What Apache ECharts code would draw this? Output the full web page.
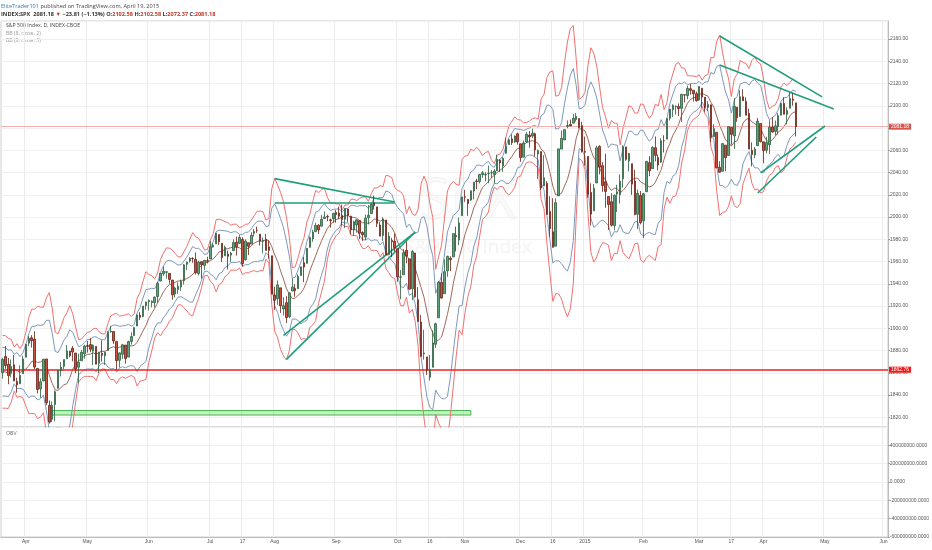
<!DOCTYPE html>
<html><head><meta charset="utf-8">
<script src="https://cdn.jsdelivr.net/npm/echarts@6/dist/echarts.min.js"></script>
<style>html,body{margin:0;padding:0;background:#fff}#c{width:932px;height:550px}</style>
</head><body><div id="c"></div>
<script>
// ---- data (S&P 500 daily, 2014-03-20 .. 2015-04-17) ----
const warmupCloses = [1867.63,1868.20,1846.34,1841.13,1858.83,1872.25,1860.77];
const opens = [
1860.09,1874.53,1867.67,1859.48,1867.09,1852.11,1850.07,1859.16,
1873.96,1886.61,1891.43,1890.25,1863.92,1845.48,1852.64,1872.28,1830.65,1818.18,1831.45,1846.01,1861.73,1865.79,1872.57,1879.32,1881.97,1877.72,1865.00,1870.78,1877.10,
1884.39,1885.30,1879.45,1883.69,1868.53,1877.39,1875.27,1880.03,1896.75,1897.13,1888.16,1871.19,1876.66,1884.88,1874.05,1888.19,1893.32,1902.01,1911.77,1910.60,1920.33,
1923.87,1923.07,1923.06,1928.52,1942.41,1948.97,1950.34,1949.37,1943.35,1930.80,1934.84,1937.15,1942.73,1957.50,1960.45,1962.92,1961.97,1949.27,1959.89,1956.56,1960.79,
1962.29,1973.06,1975.88,1984.22,1976.39,1965.10,1966.67,1965.76,1969.86,1977.36,1976.35,1979.75,1961.54,1976.93,1975.65,1985.32,1988.07,1984.60,1978.25,1980.03,1973.21,1965.14,
1929.80,1926.62,1936.34,1917.29,1923.03,1910.35,1933.43,1935.73,1935.60,1947.41,1958.87,1958.36,1972.73,1980.46,1986.82,1992.60,1991.74,1998.59,2000.54,1997.42,1998.45,
2004.07,2003.57,2001.67,1998.00,2007.17,2000.73,1988.41,1992.85,1996.74,1986.04,1981.93,1999.30,2003.07,2012.74,2009.08,1992.78,1983.34,1997.32,1966.22,1978.96,1978.21,
1971.44,1945.83,1948.12,1970.01,1962.36,1935.55,1967.68,1925.63,1905.65,1877.11,1874.18,1855.95,1864.91,1885.62,1909.38,1941.29,1931.02,1951.59,1962.97,1964.14,1983.29,1979.49,2001.20,
2018.21,2015.81,2015.29,2023.33,2032.36,2032.01,2038.20,2037.75,2039.21,2039.74,2038.29,2041.48,2051.16,2045.87,2057.46,2065.07,2070.15,2067.36,2074.78,
2065.78,2053.77,2067.45,2073.64,2072.78,2074.84,2056.55,2058.86,2027.92,2030.36,2005.03,1986.71,1973.77,2018.98,2061.04,2069.28,2081.48,2083.25,2084.30,2087.63,2088.49,2082.11,
2058.90,2054.44,2022.15,2005.55,2030.61,2063.45,2046.13,2031.58,2018.40,2013.75,1992.25,2020.76,2020.19,2034.30,2062.98,2050.42,2047.86,2032.34,2002.45,2019.35,
1996.67,2022.71,2048.86,2043.45,2062.28,2053.47,2049.38,2068.55,2069.98,2088.78,2096.47,2099.16,2099.25,2097.65,2109.83,2109.10,2115.30,2113.91,2110.88,
2105.23,2115.76,2107.72,2098.54,2100.91,2072.25,2076.14,2044.69,2041.10,2064.56,2055.35,2080.59,2072.84,2098.69,2090.32,2107.99,2103.94,2093.10,2059.94,2055.78,2064.11,2084.05,
2067.63,2060.03,2064.87,2080.79,2076.94,2081.29,2091.51,2102.03,2092.28,2097.82,2105.96,2102.58];
const highs = [
1873.49,1883.97,1873.34,1871.87,1875.92,1855.55,1866.63,1875.18,
1885.84,1893.17,1893.80,1897.28,1864.04,1854.95,1872.43,1872.53,1835.07,1834.19,1844.02,1862.31,1869.63,1871.89,1884.89,1879.75,1884.06,1877.72,1877.01,1880.60,1885.20,
1888.59,1891.33,1885.51,1883.69,1878.83,1889.07,1878.57,1897.13,1902.17,1897.13,1888.16,1878.28,1886.00,1884.88,1888.80,1896.33,1901.26,1912.28,1914.46,1920.03,1924.03,
1925.88,1925.07,1928.63,1941.74,1949.44,1955.55,1950.86,1949.37,1943.35,1937.30,1941.15,1943.69,1957.74,1959.87,1963.91,1963.74,1968.17,1960.83,1959.89,1961.47,1964.24,
1978.58,1976.67,1985.59,1984.22,1976.39,1974.15,1969.84,1968.67,1979.85,1982.52,1983.94,1981.80,1979.91,1976.93,1986.24,1989.23,1991.39,1984.60,1981.52,1984.85,1978.90,1965.14,
1937.35,1942.92,1936.34,1927.91,1928.89,1932.38,1944.90,1939.65,1948.41,1955.23,1964.04,1971.99,1982.57,1988.57,1994.76,1993.54,2001.95,2005.04,2002.14,1998.55,2003.38,
2006.12,2009.28,2011.17,2007.71,2007.17,2001.01,1996.66,1997.65,1996.74,1987.18,2002.28,2010.74,2012.34,2019.26,2009.08,1995.41,1999.79,1997.32,1986.37,1981.28,1985.17,
1971.44,1952.32,1971.19,1977.84,1962.36,1970.36,1967.68,1936.98,1912.09,1898.71,1874.18,1876.01,1898.16,1905.03,1942.45,1949.31,1961.95,1965.27,1964.64,1985.05,1991.40,1999.40,2018.19,
2024.46,2015.98,2023.77,2031.61,2034.26,2038.70,2041.28,2040.33,2046.18,2042.22,2043.07,2056.08,2052.14,2053.84,2071.46,2070.17,2074.21,2073.29,2075.76,
2065.78,2068.77,2076.28,2077.34,2079.47,2075.78,2060.60,2058.86,2055.53,2032.25,2018.69,2016.89,2016.75,2061.23,2077.85,2078.76,2086.73,2087.56,2092.70,2093.55,2088.49,2085.58,
2072.36,2054.44,2030.25,2029.61,2064.08,2064.43,2049.30,2056.93,2018.40,2021.35,2020.46,2028.94,2038.29,2064.62,2062.98,2057.62,2047.86,2042.49,2024.64,2023.32,
2021.66,2050.30,2054.74,2063.55,2072.40,2056.16,2070.86,2073.48,2088.53,2097.03,2101.30,2100.23,2102.13,2110.61,2110.05,2117.94,2119.59,2113.91,2112.74,
2117.52,2115.76,2107.72,2104.25,2100.91,2083.49,2076.14,2050.08,2066.41,2064.56,2081.41,2080.59,2106.85,2098.69,2113.92,2114.86,2107.63,2097.43,2067.15,2062.83,2088.97,2084.05,
2067.63,2072.17,2086.99,2089.81,2086.69,2093.31,2102.61,2107.65,2098.62,2111.91,2111.30,2102.58];
const lows = [
1854.63,1863.46,1849.69,1855.96,1852.56,1842.11,1850.07,1859.16,
1873.96,1883.79,1882.65,1863.26,1841.48,1837.49,1852.38,1830.87,1814.36,1815.80,1816.29,1846.01,1856.72,1863.18,1872.57,1873.91,1870.24,1859.70,1850.61,1870.78,1872.69,
1878.04,1878.50,1866.77,1867.72,1859.79,1870.05,1867.02,1880.03,1896.06,1885.77,1862.36,1864.82,1872.42,1868.14,1874.05,1885.39,1893.32,1902.01,1907.30,1909.82,1916.64,
1915.98,1918.79,1918.60,1922.93,1942.41,1947.16,1944.64,1940.08,1925.78,1927.69,1930.91,1933.55,1939.29,1952.26,1959.17,1958.89,1948.34,1947.49,1944.69,1952.18,1958.22,
1962.29,1972.58,1975.88,1974.88,1959.46,1965.10,1952.86,1959.63,1969.86,1965.34,1975.67,1955.59,1960.82,1965.77,1975.65,1982.44,1985.79,1974.37,1967.31,1969.95,1962.42,1930.67,
1916.37,1921.20,1913.77,1911.45,1904.78,1909.01,1933.43,1928.29,1935.60,1947.41,1941.50,1958.36,1972.73,1977.68,1986.82,1984.76,1991.74,1998.59,1996.20,1990.52,1994.65,
1994.85,1998.14,1992.54,1990.10,1995.60,1984.61,1982.99,1985.93,1980.26,1978.48,1979.06,1993.29,2003.07,2006.59,1991.01,1982.77,1978.63,1965.99,1966.22,1964.04,1968.96,
1941.72,1926.03,1948.12,1958.43,1935.10,1925.25,1927.56,1906.05,1874.14,1871.79,1858.00,1853.00,1864.91,1882.30,1909.38,1926.83,1931.02,1946.27,1951.37,1964.14,1969.04,1974.75,2001.20,
2013.68,2001.01,2014.42,2015.86,2025.07,2030.17,2035.28,2031.95,2030.44,2035.20,2030.20,2041.48,2040.37,2040.49,2056.75,2065.07,2064.75,2066.62,2065.06,
2049.57,2053.77,2066.65,2062.34,2070.81,2054.27,2034.17,2024.26,2027.92,2002.33,1982.26,1972.56,1973.77,2018.98,2061.03,2069.28,2079.77,2081.86,2084.30,2085.75,2079.53,2057.94,
2046.04,2017.34,1992.44,2005.55,2030.61,2038.33,2022.58,2008.25,1988.44,1991.47,1988.12,2004.49,2012.04,2026.38,2050.54,2040.97,2019.91,2001.49,1989.18,1993.38,
1980.90,2022.71,2036.72,2043.45,2049.97,2041.88,2048.62,2057.99,2069.98,2086.70,2089.80,2092.15,2090.79,2085.44,2103.00,2105.87,2109.89,2103.76,2103.75,
2104.50,2098.26,2094.49,2095.22,2067.27,2072.21,2044.16,2039.69,2041.10,2041.17,2055.35,2065.08,2061.23,2085.56,2090.32,2104.42,2091.50,2061.05,2045.50,2052.96,2064.11,2067.04,
2048.38,2057.32,2056.52,2076.10,2073.30,2074.29,2091.51,2092.33,2083.24,2097.82,2100.02,2072.37];
const closes = [
1872.01,1866.52,1857.44,1865.62,1852.56,1849.04,1857.62,1872.34,
1885.52,1890.90,1888.77,1865.09,1845.04,1851.96,1872.18,1833.08,1815.69,1830.61,1842.98,1862.31,1864.85,1871.89,1879.55,1875.39,1878.61,1863.40,1869.43,1878.33,1883.95,
1883.68,1881.14,1884.66,1867.72,1878.21,1875.63,1878.48,1896.65,1897.45,1888.53,1870.85,1877.86,1885.08,1872.83,1888.03,1892.49,1900.53,1911.91,1909.78,1920.03,1923.57,
1924.97,1924.24,1927.88,1940.46,1949.44,1951.27,1950.79,1943.89,1930.11,1936.16,1937.78,1941.99,1956.98,1959.48,1962.87,1962.61,1949.98,1959.53,1957.22,1960.96,1960.23,
1973.32,1974.62,1985.44,1977.65,1963.71,1972.83,1964.68,1967.57,1977.10,1973.28,1981.57,1958.12,1978.22,1973.63,1983.53,1987.01,1987.98,1978.34,1978.91,1969.95,1970.07,1930.67,
1925.15,1938.99,1920.21,1920.24,1909.57,1931.59,1936.92,1933.75,1946.72,1955.18,1955.06,1971.74,1981.60,1986.51,1992.37,1988.40,1997.92,2000.02,2000.12,1996.74,2003.37,
2002.28,2000.72,1997.65,2007.71,2001.54,1988.44,1995.69,1997.45,1985.54,1984.13,1998.98,2001.57,2011.36,2010.40,1994.29,1982.77,1998.30,1965.99,1982.85,1977.80,1972.29,
1946.16,1946.17,1967.90,1964.82,1935.10,1968.89,1928.21,1906.13,1874.74,1877.70,1862.49,1862.76,1886.76,1904.01,1941.28,1927.11,1950.82,1964.58,1961.63,1985.05,1982.30,1994.65,2018.05,
2017.81,2012.10,2023.57,2031.21,2031.92,2038.26,2039.68,2038.25,2039.33,2039.82,2041.32,2051.80,2048.72,2052.75,2063.50,2069.41,2067.03,2072.83,2067.56,
2053.44,2066.55,2074.33,2071.92,2075.37,2060.31,2059.82,2026.14,2035.33,2002.33,1989.63,1972.74,2012.89,2061.23,2070.65,2078.54,2082.17,2081.88,2088.77,2090.57,2080.35,2058.90,
2058.20,2020.58,2002.61,2025.90,2062.14,2044.81,2028.26,2023.03,2011.27,1992.67,2019.42,2022.55,2032.12,2063.15,2051.82,2057.09,2029.55,2002.16,2021.25,1994.99,
2020.85,2050.03,2041.51,2062.52,2055.47,2046.74,2068.59,2068.53,2088.48,2096.99,2100.34,2099.68,2097.45,2110.30,2109.66,2115.48,2113.86,2110.74,2104.50,
2117.39,2107.78,2098.53,2101.04,2071.26,2079.43,2044.16,2040.24,2065.95,2053.40,2081.19,2074.28,2099.50,2089.27,2108.10,2104.42,2091.50,2061.05,2056.15,2061.02,2086.24,2067.89,
2059.69,2066.96,2080.62,2076.33,2081.90,2091.18,2102.06,2092.43,2095.84,2106.63,2104.99,2081.18];

const marketHolidays = ['2014-04-18','2014-05-26','2014-07-04','2014-09-01','2014-11-27','2014-12-25',
  '2015-01-01','2015-01-19','2015-02-16','2015-04-03','2015-05-25'];
const firstDay = '2014-03-20', lastDay = '2015-06-02';
const monthAbbr = ['Jan','Feb','Mar','Apr','May','Jun','Jul','Aug','Sep','Oct','Nov','Dec'];
const midMonthLabels = {'2014-07-17':'17','2014-10-16':'16','2014-12-16':'16','2015-03-17':'17'};
const obvTicks = [-600000000,-400000000,-200000000,0,200000000,400000000,600000000];
const levelPrices = [1862.76, 2081.18];
const supportZone = [['2014-04-14',1822],['2014-11-05',1826]];
const trendLines = [
  [['2014-08-01',2034.5],['2014-09-30',2013.5]],
  [['2014-08-01',2012.6],['2014-09-30',2012.8]],
  [['2014-08-06',1893.5],['2014-10-09',1986.5]],
  [['2014-08-07',1872.0],['2014-10-09',1986.5]],
  [['2015-03-11',2162.7],['2015-04-30',2108.0]],
  [['2015-03-11',2136.6],['2015-05-06',2097.0]],
  [['2015-03-31',2039.6],['2015-05-01',2081.8]],
  [['2015-03-30',2021.6],['2015-04-28',2071.9]]
];

// ---- categories (trading days) ----
const dates = [];
(function(){
  const d = new Date(firstDay+'T00:00:00Z'), e = new Date(lastDay+'T00:00:00Z');
  while (d <= e) {
    const wd = d.getUTCDay(), s = d.toISOString().slice(0,10);
    if (wd !== 0 && wd !== 6 && marketHolidays.indexOf(s) < 0) dates.push(s);
    d.setUTCDate(d.getUTCDate()+1);
  }
})();
const labelMap = {};
(function(){
  let prev = firstDay.slice(5,7);
  dates.forEach((d,i)=>{
    const m = d.slice(5,7);
    if (m !== prev) { labelMap[i] = m === '01' ? d.slice(0,4) : monthAbbr[+m-1]; prev = m; }
    if (midMonthLabels[d]) labelMap[i] = midMonthLabels[d];
  });
})();

// ---- Bollinger bands (8, close) ----
function bands(mult){
  const all = warmupCloses.concat(closes);
  const basis=[], up=[], lo=[];
  for (let i=0;i<closes.length;i++){
    const w = all.slice(i,i+8);
    const m = w.reduce((a,b)=>a+b,0)/8;
    const sd = Math.sqrt(w.reduce((a,b)=>a+(b-m)*(b-m),0)/8);
    basis.push(m); up.push(m+mult*sd); lo.push(m-mult*sd);
  }
  return {basis, up, lo};
}
const bb2 = bands(2), bb3 = bands(3);
const candles = closes.map((c,i)=>[opens[i], c, lows[i], highs[i]]);

const AX_FONT = 'Liberation Sans, Arial, sans-serif';
const chart = echarts.init(document.getElementById('c'), null, {renderer:'canvas'});
const lineS = (data, color, w) => ({type:'line', xAxisIndex:0, yAxisIndex:0, data, showSymbol:false, symbol:'none',
  lineStyle:{color, width:w}, silent:true, z:3, animation:false});

const mlData = [
  {yAxis: levelPrices[0], lineStyle:{color:'#f02020', width:1.5, type:'solid'},
   label:{show:true, position:'end', distance:1, formatter:p=>p.value.toFixed(2), color:'#fff', backgroundColor:'#f01818',
     padding:[1,2,0,2], fontSize:5, fontFamily:AX_FONT}},
  {yAxis: levelPrices[1], lineStyle:{color:'#f4b0b0', width:1, type:'solid'},
   label:{show:true, position:'end', distance:1, formatter:p=>p.value.toFixed(2), color:'#fff', backgroundColor:'#d9534f',
     padding:[1,2,0,2], fontSize:5, fontFamily:AX_FONT}}
].concat(trendLines.map(t=>[
  {coord:t[0], lineStyle:{color:'#1f9e7a', width:1.6, type:'solid'}, label:{show:false}},
  {coord:t[1]}
]));

chart.setOption({
  animation:false,
  backgroundColor:'#ffffff',
  grid:[
    {left:1, right:44, top:21, height:406, show:true, borderColor:'#cfcfcf', borderWidth:1},
    {left:1, right:44, top:427, height:110, show:true, borderColor:'#cfcfcf', borderWidth:1}
  ],
  xAxis:[
    {type:'category', gridIndex:0, data:dates, boundaryGap:true,
     axisLine:{show:false, onZero:false}, axisTick:{show:false}, axisLabel:{show:false},
     splitLine:{show:true, interval:(i)=>labelMap[i]!==undefined, lineStyle:{color:'#ececec', width:1}}},
    {type:'category', gridIndex:1, data:dates, boundaryGap:true, position:'bottom',
     axisLine:{show:true, onZero:false, lineStyle:{color:'#bdbdbd'}}, axisTick:{show:false},
     axisLabel:{show:true, interval:(i)=>labelMap[i]!==undefined, formatter:(v,i)=>labelMap[i]||'',
       fontSize:5, color:'#555', margin:2, fontFamily:AX_FONT},
     splitLine:{show:true, interval:(i)=>labelMap[i]!==undefined, lineStyle:{color:'#ececec', width:1}}}
  ],
  yAxis:[
    {type:'value', gridIndex:0, position:'right', min:1811.24, max:2176.18, splitNumber:18, scale:true,
     axisLine:{show:true, lineStyle:{color:'#bdbdbd'}}, axisTick:{show:true, length:2, lineStyle:{color:'#999'}},
     axisLabel:{fontSize:5, color:'#555', margin:2, fontFamily:AX_FONT, formatter:v=>v.toFixed(2),
       showMinLabel:false, showMaxLabel:false},
     splitLine:{show:true, lineStyle:{color:'#f0f0f0'}}},
    {type:'value', gridIndex:1, position:'right', min:obvTicks[0], max:obvTicks[obvTicks.length-1], interval:200000000,
     axisLine:{show:true, lineStyle:{color:'#bdbdbd'}}, axisTick:{show:true, length:2, lineStyle:{color:'#999'}},
     axisLabel:{fontSize:5, color:'#555', margin:2, fontFamily:AX_FONT, formatter:v=>v.toFixed(4), showMaxLabel:false},
     splitLine:{show:true, lineStyle:{color:'#f0f0f0'}}}
  ],
  graphic:[
    {type:'text', x:468, y:203, z:-10, silent:true, style:{text:'SPX', fill:'rgba(0,0,0,0.018)', stroke:'rgba(0,0,0,0.055)', lineWidth:0.8,
      font:'56px Open Sans, sans-serif', textAlign:'center', textVerticalAlign:'middle'}},
    {type:'text', x:468, y:248, z:-10, silent:true, style:{text:'S&P 500 Index', fill:'rgba(0,0,0,0.018)', stroke:'rgba(0,0,0,0.055)', lineWidth:0.6,
      font:'19px Open Sans, sans-serif', textAlign:'center', textVerticalAlign:'middle'}},
    {type:'text', x:1, y:6, style:{text:'{a|EliteTrader101} {b|published on TradingView.com, April 19, 2015}',
      font:'5.6px Open Sans, sans-serif', textVerticalAlign:'middle',
      rich:{a:{fill:'#2b7bb9', font:'5.6px Open Sans, sans-serif'}, b:{fill:'#444', font:'5.6px Open Sans, sans-serif'}}}},
    {type:'text', x:1, y:14, style:{text:'{k|INDEX:SPX}  {k|2081.18} {r|▼} {k|−23.81 (−1.13%)} {k|O:}{r|2102.58} {k|H:}{r|2102.58} {k|L:}{r|2072.37} {k|C:}{r|2081.18}',
      font:'bold 5.6px Open Sans, sans-serif', textVerticalAlign:'middle',
      rich:{k:{fill:'#333', font:'bold 5.6px Open Sans, sans-serif'}, r:{fill:'#c0392b', font:'bold 5.6px Open Sans, sans-serif'}}}},
    {type:'text', x:6, y:26, style:{text:'S&P 500 Index, D, INDEX-CBOE', fill:'#444', font:'5.2px Open Sans, sans-serif', textVerticalAlign:'middle'}},
    {type:'text', x:6, y:33.5, style:{text:'BB (8, close, 2)', fill:'#999', font:'5.2px Open Sans, sans-serif', textVerticalAlign:'middle'}},
    {type:'text', x:6, y:41, style:{text:'BB (8, close, 3)', fill:'#999', font:'5.2px Open Sans, sans-serif', textVerticalAlign:'middle'}},
    {type:'text', x:6, y:434, style:{text:'OBV', fill:'#666', font:'5.2px Open Sans, sans-serif', textVerticalAlign:'middle'}}
  ],
  series:[
    lineS(bb3.up, '#f07070', 1), lineS(bb3.lo, '#f07070', 1),
    lineS(bb2.up, '#7e98bb', 1), lineS(bb2.lo, '#7e98bb', 1),
    lineS(bb3.basis, '#a0685a', 1),
    {type:'candlestick', xAxisIndex:0, yAxisIndex:0, data:candles, barWidth:2, z:5, animation:false,
     itemStyle:{color:'#5ea57f', color0:'#c8503c', borderColor:'#2c5e3f', borderColor0:'#6a2116', borderWidth:0.8},
     markLine:{symbol:['none','none'], silent:true, animation:false, data:mlData},
     markArea:{silent:true, itemStyle:{color:'rgba(120,225,120,0.45)', borderColor:'#45b54c', borderWidth:1},
       data:[[{coord:supportZone[0]},{coord:supportZone[1]}]]}},
    {type:'line', xAxisIndex:1, yAxisIndex:1, data:[], showSymbol:false}
  ]
});
</script></body></html>
